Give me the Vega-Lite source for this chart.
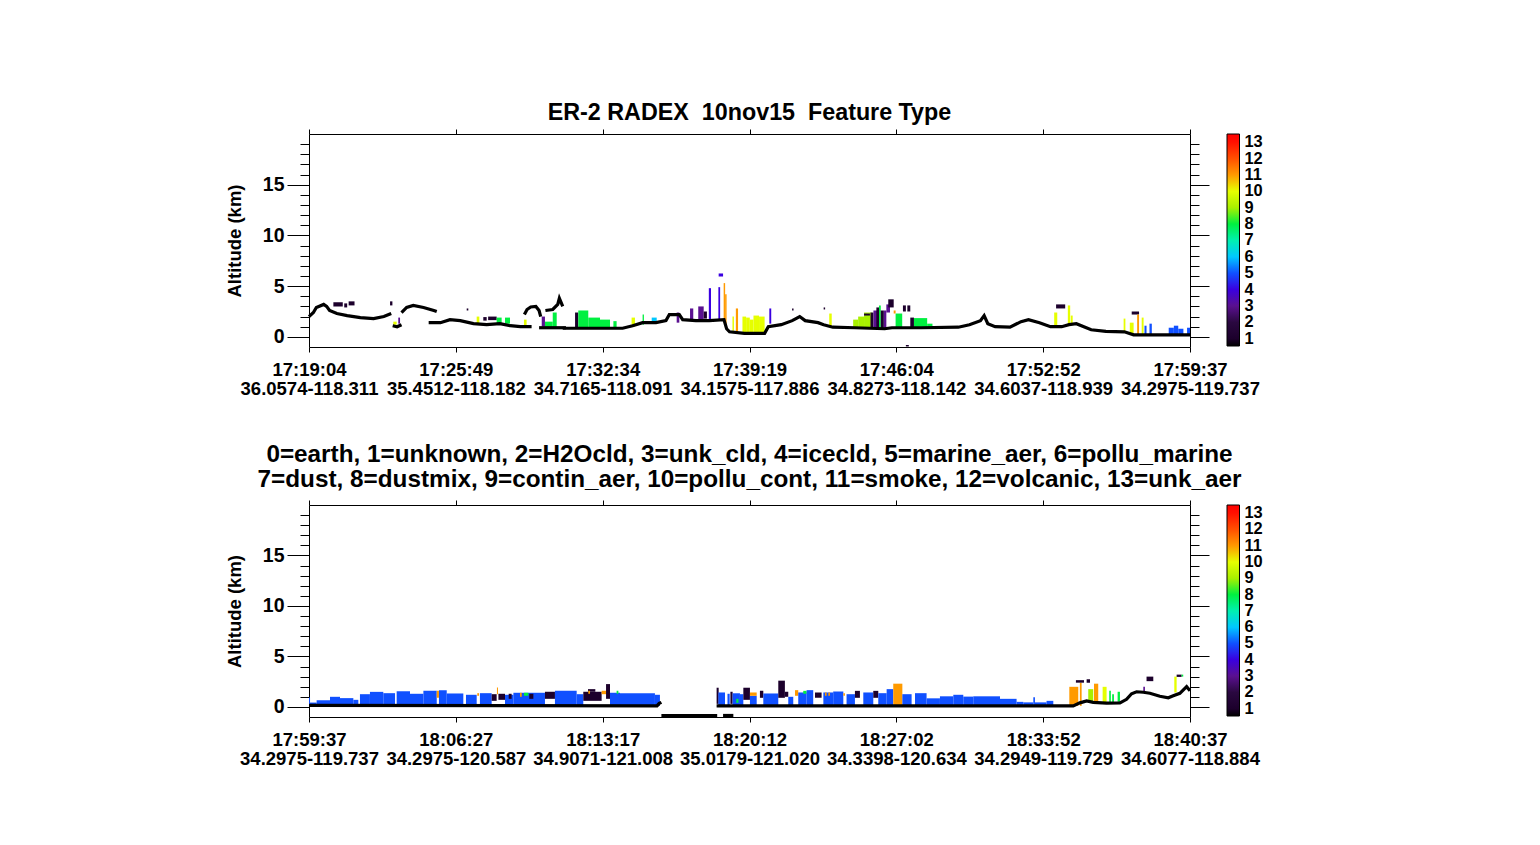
{
  "$schema": "https://vega.github.io/schema/vega-lite/v6.json",
  "padding": {"left": 224, "top": 100, "right": 20, "bottom": 20},
  "background": "white",
  "bounds": "flush",
  "spacing": 158,
  "config": {
    "view": {"stroke": "black", "strokeWidth": 1},
    "font": "Liberation Sans",
    "axis": {
      "domain": false,
      "grid": false,
      "tickColor": "black",
      "tickWidth": 1,
      "labelColor": "black",
      "labelFont": "Liberation Sans",
      "labelFontWeight": "bold",
      "labelFontSize": 18.5,
      "titleFont": "Liberation Sans",
      "titleFontWeight": "bold",
      "titleFontSize": 18.5,
      "titleColor": "black"
    },
    "title": {"font": "Liberation Sans", "fontWeight": "bold", "color": "black", "anchor": "middle"}
  },
  "datasets": {
    "topRects": [
      {"p0": 16.6, "p1": 23, "b": 3.0, "t": 3.4, "c": 1},
      {"p0": 24, "p1": 26, "b": 2.9, "t": 3.3, "c": 1},
      {"p0": 27, "p1": 31, "b": 3.1, "t": 3.5, "c": 1},
      {"p0": 55.2, "p1": 56.8, "b": 3.1, "t": 3.5, "c": 1},
      {"p0": 107.4, "p1": 108.5, "b": 2.6, "t": 2.8, "c": 1},
      {"p0": 118.7, "p1": 121, "b": 1.6, "t": 1.95, "c": 1},
      {"p0": 122, "p1": 127.8, "b": 1.65, "t": 2.0, "c": 1},
      {"p0": 181.2, "p1": 183.4, "b": 0.85, "t": 2.4, "c": 1},
      {"p0": 57.4, "p1": 59.7, "b": 1.2, "t": 1.5, "c": 10},
      {"p0": 60.8, "p1": 62, "b": 1.3, "t": 1.9, "c": 3},
      {"p0": 114.2, "p1": 116, "b": 1.3, "t": 2.0, "c": 10},
      {"p0": 127.8, "p1": 131.2, "b": 1.3, "t": 1.9, "c": 8},
      {"p0": 133.5, "p1": 136.9, "b": 1.3, "t": 1.9, "c": 8},
      {"p0": 146.4, "p1": 148.2, "b": 1.1, "t": 1.7, "c": 10},
      {"p0": 158.5, "p1": 160.7, "b": 1.0, "t": 2.0, "c": 3},
      {"p0": 160.7, "p1": 166, "b": 0.9, "t": 1.5, "c": 8},
      {"p0": 166, "p1": 168.7, "b": 0.9, "t": 2.4, "c": 8},
      {"p0": 183.4, "p1": 190.2, "b": 0.85, "t": 2.6, "c": 8},
      {"p0": 190.2, "p1": 198.2, "b": 0.85, "t": 1.9, "c": 8},
      {"p0": 198.2, "p1": 205, "b": 0.85, "t": 1.7, "c": 8},
      {"p0": 207.3, "p1": 209.5, "b": 0.85, "t": 1.55, "c": 8},
      {"p0": 219.7, "p1": 222, "b": 1.0, "t": 1.9, "c": 10},
      {"p0": 227.2, "p1": 228.1, "b": 1.2, "t": 2.2, "c": 8},
      {"p0": 233.4, "p1": 236.8, "b": 1.4, "t": 1.9, "c": 6},
      {"p0": 250.4, "p1": 252.2, "b": 1.4, "t": 2.4, "c": 3},
      {"p0": 259.5, "p1": 261.7, "b": 1.7, "t": 2.8, "c": 3},
      {"p0": 265.1, "p1": 268.8, "b": 1.6, "t": 3.0, "c": 3},
      {"p0": 268.8, "p1": 271, "b": 1.8, "t": 2.5, "c": 1},
      {"p0": 272.3, "p1": 273.8, "b": 1.7, "t": 4.8, "c": 4},
      {"p0": 278.8, "p1": 280, "b": 1.7, "t": 4.9, "c": 4},
      {"p0": 279, "p1": 282, "b": 5.95, "t": 6.25, "c": 4},
      {"p0": 282.4, "p1": 283.4, "b": 1.7, "t": 5.3, "c": 11},
      {"p0": 283.4, "p1": 284.4, "b": 1.0, "t": 4.2, "c": 11},
      {"p0": 288.4, "p1": 289.4, "b": 0.6, "t": 2.0, "c": 10},
      {"p0": 290.7, "p1": 292.2, "b": 0.5, "t": 2.8, "c": 11},
      {"p0": 295.2, "p1": 297.7, "b": 0.4, "t": 2.0, "c": 10},
      {"p0": 297.7, "p1": 300.2, "b": 0.4, "t": 1.9, "c": 10},
      {"p0": 300.2, "p1": 302.7, "b": 0.4, "t": 1.7, "c": 10},
      {"p0": 302.7, "p1": 306.5, "b": 0.4, "t": 2.1, "c": 10},
      {"p0": 306.5, "p1": 310.3, "b": 0.4, "t": 2.0, "c": 10},
      {"p0": 313.5, "p1": 314.8, "b": 1.3, "t": 2.8, "c": 4},
      {"p0": 329, "p1": 330, "b": 2.6, "t": 2.8, "c": 1},
      {"p0": 350.5, "p1": 351.5, "b": 2.7, "t": 2.9, "c": 1},
      {"p0": 354.3, "p1": 356, "b": 0.95, "t": 2.3, "c": 10},
      {"p0": 370.6, "p1": 374, "b": 0.9, "t": 1.7, "c": 9},
      {"p0": 374, "p1": 378, "b": 0.9, "t": 2.0, "c": 9},
      {"p0": 378, "p1": 383.2, "b": 0.9, "t": 2.4, "c": 9},
      {"p0": 378, "p1": 382, "b": 2.1, "t": 2.3, "c": 1},
      {"p0": 382.4, "p1": 384.4, "b": 0.85, "t": 2.4, "c": 1},
      {"p0": 384.4, "p1": 386.9, "b": 0.85, "t": 2.6, "c": 3},
      {"p0": 386.4, "p1": 388.2, "b": 0.8, "t": 2.9, "c": 1},
      {"p0": 388.2, "p1": 389.4, "b": 0.8, "t": 3.1, "c": 8},
      {"p0": 389.4, "p1": 391.5, "b": 0.75, "t": 2.6, "c": 1},
      {"p0": 391.5, "p1": 393.2, "b": 0.75, "t": 2.6, "c": 3},
      {"p0": 393.2, "p1": 395.7, "b": 2.4, "t": 3.2, "c": 3},
      {"p0": 394.5, "p1": 398.2, "b": 2.9, "t": 3.7, "c": 1},
      {"p0": 398.2, "p1": 399.5, "b": 2.3, "t": 2.6, "c": 11},
      {"p0": 399.5, "p1": 404, "b": 0.9, "t": 2.3, "c": 8},
      {"p0": 404.5, "p1": 406.5, "b": 2.5, "t": 3.1, "c": 1},
      {"p0": 407.5, "p1": 409.5, "b": 2.5, "t": 3.1, "c": 1},
      {"p0": 406.5, "p1": 408.5, "b": -0.95, "t": -0.8, "c": 1},
      {"p0": 409.5, "p1": 412, "b": 0.9, "t": 1.9, "c": 1},
      {"p0": 412, "p1": 421, "b": 0.9, "t": 1.85, "c": 8},
      {"p0": 421, "p1": 424.6, "b": 0.9, "t": 1.3, "c": 8},
      {"p0": 507.5, "p1": 509.6, "b": 1.1, "t": 2.4, "c": 10},
      {"p0": 508.8, "p1": 515, "b": 2.8, "t": 3.2, "c": 1},
      {"p0": 516.8, "p1": 518.4, "b": 1.3, "t": 3.1, "c": 10},
      {"p0": 518.8, "p1": 520.1, "b": 1.3, "t": 2.1, "c": 10},
      {"p0": 554.8, "p1": 556, "b": 0.45, "t": 1.8, "c": 10},
      {"p0": 559, "p1": 561.6, "b": 0.3, "t": 1.4, "c": 10},
      {"p0": 560.3, "p1": 565.3, "b": 2.2, "t": 2.5, "c": 1},
      {"p0": 564, "p1": 565.3, "b": 0.2, "t": 2.2, "c": 11},
      {"p0": 567.1, "p1": 568.4, "b": 0.2, "t": 1.9, "c": 10},
      {"p0": 569, "p1": 570.4, "b": 0.2, "t": 1.1, "c": 5},
      {"p0": 572.4, "p1": 574, "b": 0.2, "t": 1.3, "c": 5},
      {"p0": 585.5, "p1": 589, "b": 0.2, "t": 0.9, "c": 5},
      {"p0": 589, "p1": 592, "b": 0.2, "t": 1.1, "c": 5},
      {"p0": 592, "p1": 595.5, "b": 0.2, "t": 0.8, "c": 5},
      {"p0": 598, "p1": 600, "b": 0.2, "t": 0.9, "c": 5}
    ],
    "topSurface": [
      {"p": 0, "a": 2.0, "s": 1}, {"p": 3, "a": 2.4, "s": 1}, {"p": 5, "a": 2.9, "s": 1}, {"p": 10, "a": 3.2, "s": 1},
      {"p": 12, "a": 3.0, "s": 1}, {"p": 14, "a": 2.6, "s": 1}, {"p": 19, "a": 2.3, "s": 1}, {"p": 26, "a": 2.1, "s": 1},
      {"p": 35, "a": 1.9, "s": 1}, {"p": 44, "a": 1.8, "s": 1}, {"p": 51, "a": 2.0, "s": 1}, {"p": 56, "a": 2.3, "s": 1},
      {"p": 57, "a": 1.1, "s": 2}, {"p": 60, "a": 1.0, "s": 2}, {"p": 63, "a": 1.2, "s": 2},
      {"p": 63, "a": 2.4, "s": 3}, {"p": 66.5, "a": 2.9, "s": 3}, {"p": 71, "a": 3.1, "s": 3}, {"p": 78, "a": 2.9, "s": 3},
      {"p": 85, "a": 2.6, "s": 3}, {"p": 87, "a": 2.5, "s": 3},
      {"p": 81.5, "a": 1.4, "s": 4}, {"p": 89.5, "a": 1.4, "s": 4}, {"p": 96, "a": 1.7, "s": 4}, {"p": 103, "a": 1.6, "s": 4},
      {"p": 112, "a": 1.3, "s": 4}, {"p": 121, "a": 1.2, "s": 4}, {"p": 130, "a": 1.3, "s": 4}, {"p": 137, "a": 1.1, "s": 4},
      {"p": 144, "a": 1.0, "s": 4}, {"p": 151.6, "a": 1.0, "s": 4},
      {"p": 146.7, "a": 2.2, "s": 5}, {"p": 148.5, "a": 2.7, "s": 5}, {"p": 151, "a": 2.95, "s": 5}, {"p": 154.5, "a": 3.0, "s": 5},
      {"p": 156.7, "a": 2.6, "s": 5}, {"p": 157.8, "a": 2.0, "s": 5},
      {"p": 156.7, "a": 0.9, "s": 6}, {"p": 175, "a": 0.9, "s": 6},
      {"p": 161, "a": 2.6, "s": 7}, {"p": 166, "a": 2.7, "s": 7}, {"p": 169.4, "a": 3.2, "s": 7}, {"p": 170.5, "a": 3.8, "s": 7}, {"p": 172.8, "a": 3.0, "s": 7},
      {"p": 172.8, "a": 0.85, "s": 8}, {"p": 213.6, "a": 0.85, "s": 8}, {"p": 220.4, "a": 1.1, "s": 8}, {"p": 227.2, "a": 1.4, "s": 8},
      {"p": 236.3, "a": 1.4, "s": 8}, {"p": 243.1, "a": 1.6, "s": 8}, {"p": 245.4, "a": 2.2, "s": 8}, {"p": 252.2, "a": 2.2, "s": 8},
      {"p": 254.5, "a": 1.7, "s": 8}, {"p": 263.5, "a": 1.6, "s": 8}, {"p": 272.6, "a": 1.6, "s": 8}, {"p": 282.6, "a": 1.7, "s": 8},
      {"p": 284.4, "a": 0.8, "s": 8}, {"p": 286.4, "a": 0.5, "s": 8}, {"p": 296.5, "a": 0.35, "s": 8}, {"p": 310.3, "a": 0.35, "s": 8},
      {"p": 312.8, "a": 1.0, "s": 8}, {"p": 321.6, "a": 1.2, "s": 8}, {"p": 329.1, "a": 1.6, "s": 8}, {"p": 334.2, "a": 2.0, "s": 8},
      {"p": 337.9, "a": 1.6, "s": 8}, {"p": 346.7, "a": 1.4, "s": 8}, {"p": 350.5, "a": 1.2, "s": 8}, {"p": 356.8, "a": 0.95, "s": 8},
      {"p": 371.8, "a": 0.9, "s": 8}, {"p": 392, "a": 0.8, "s": 8}, {"p": 397, "a": 0.9, "s": 8}, {"p": 417, "a": 0.9, "s": 8},
      {"p": 442.2, "a": 0.95, "s": 8}, {"p": 449.8, "a": 1.2, "s": 8}, {"p": 457.3, "a": 1.6, "s": 8}, {"p": 459.8, "a": 2.1, "s": 8},
      {"p": 462.3, "a": 1.3, "s": 8}, {"p": 467.3, "a": 1.0, "s": 8}, {"p": 477.4, "a": 0.95, "s": 8}, {"p": 484.9, "a": 1.5, "s": 8},
      {"p": 490, "a": 1.7, "s": 8}, {"p": 497.5, "a": 1.4, "s": 8}, {"p": 505, "a": 1.0, "s": 8}, {"p": 512.6, "a": 1.0, "s": 8},
      {"p": 517.6, "a": 1.2, "s": 8}, {"p": 522.6, "a": 1.3, "s": 8}, {"p": 527.7, "a": 1.0, "s": 8}, {"p": 532.7, "a": 0.7, "s": 8},
      {"p": 542.7, "a": 0.55, "s": 8}, {"p": 555.3, "a": 0.5, "s": 8}, {"p": 561.6, "a": 0.2, "s": 8}, {"p": 600, "a": 0.2, "s": 8}
    ],
    "bottomRects": [
      {"p0": 0, "p1": 0.7, "b": 0.1, "t": 0.93, "c": 5},
      {"p0": 0.7, "p1": 5.2, "b": 0.1, "t": 0.43, "c": 5},
      {"p0": 5.2, "p1": 14.3, "b": 0.1, "t": 0.66, "c": 5},
      {"p0": 14.3, "p1": 21.1, "b": 0.1, "t": 1.0, "c": 5},
      {"p0": 21.1, "p1": 30.2, "b": 0.1, "t": 0.87, "c": 5},
      {"p0": 30.2, "p1": 33.6, "b": 0.1, "t": 0.7, "c": 5},
      {"p0": 34.7, "p1": 41.5, "b": 0.1, "t": 1.26, "c": 5},
      {"p0": 41.5, "p1": 50.6, "b": 0.1, "t": 1.49, "c": 5},
      {"p0": 50.6, "p1": 58.6, "b": 0.1, "t": 1.36, "c": 5},
      {"p0": 59.7, "p1": 68.8, "b": 0.1, "t": 1.55, "c": 5},
      {"p0": 68.8, "p1": 77.9, "b": 0.1, "t": 1.3, "c": 5},
      {"p0": 77.9, "p1": 87, "b": 0.1, "t": 1.6, "c": 5},
      {"p0": 87, "p1": 88.5, "b": 0.9, "t": 1.6, "c": 11},
      {"p0": 88.5, "p1": 93.8, "b": 0.1, "t": 1.65, "c": 5},
      {"p0": 93.8, "p1": 105.1, "b": 0.1, "t": 1.33, "c": 5},
      {"p0": 106.9, "p1": 114.2, "b": 0.1, "t": 1.2, "c": 5},
      {"p0": 114.6, "p1": 115.8, "b": 1.1, "t": 1.36, "c": 11},
      {"p0": 116.4, "p1": 124.4, "b": 0.1, "t": 1.36, "c": 5},
      {"p0": 124.4, "p1": 127.8, "b": 0.6, "t": 1.26, "c": 1},
      {"p0": 128, "p1": 128.7, "b": 1.26, "t": 1.92, "c": 11},
      {"p0": 129, "p1": 133.5, "b": 0.7, "t": 1.3, "c": 1},
      {"p0": 133.5, "p1": 139.2, "b": 0.1, "t": 1.2, "c": 5},
      {"p0": 136, "p1": 138, "b": 0.8, "t": 1.3, "c": 1},
      {"p0": 139.2, "p1": 160.7, "b": 0.1, "t": 1.4, "c": 5},
      {"p0": 143.7, "p1": 144.9, "b": 1.0, "t": 1.4, "c": 11},
      {"p0": 146.4, "p1": 149.4, "b": 1.1, "t": 1.4, "c": 8},
      {"p0": 150, "p1": 152.8, "b": 0.8, "t": 1.3, "c": 1},
      {"p0": 160.7, "p1": 167.5, "b": 0.8, "t": 1.5, "c": 1},
      {"p0": 167.5, "p1": 182.3, "b": 0.1, "t": 1.6, "c": 5},
      {"p0": 182.3, "p1": 186.8, "b": 0.1, "t": 1.26, "c": 5},
      {"p0": 186.8, "p1": 199.3, "b": 0.6, "t": 1.5, "c": 1},
      {"p0": 190, "p1": 195, "b": 1.5, "t": 1.76, "c": 1},
      {"p0": 190.2, "p1": 191.4, "b": 1.3, "t": 1.6, "c": 11},
      {"p0": 199.3, "p1": 202.7, "b": 1.26, "t": 1.6, "c": 11},
      {"p0": 202.3, "p1": 205, "b": 0.8, "t": 2.26, "c": 1},
      {"p0": 205, "p1": 211.8, "b": 0.1, "t": 1.4, "c": 5},
      {"p0": 209.5, "p1": 210.7, "b": 1.3, "t": 1.6, "c": 8},
      {"p0": 211.8, "p1": 235.6, "b": 0.1, "t": 1.36, "c": 5},
      {"p0": 235.6, "p1": 239, "b": 0.1, "t": 1.2, "c": 5},
      {"p0": 277.6, "p1": 279, "b": 0.3, "t": 1.9, "c": 1},
      {"p0": 278.8, "p1": 283.3, "b": 0.1, "t": 1.43, "c": 5},
      {"p0": 285, "p1": 286.5, "b": 0.1, "t": 1.3, "c": 5},
      {"p0": 287, "p1": 288.5, "b": 0.3, "t": 1.5, "c": 1},
      {"p0": 288.5, "p1": 293.5, "b": 0.1, "t": 1.35, "c": 5},
      {"p0": 291, "p1": 292.5, "b": 0.4, "t": 0.8, "c": 8},
      {"p0": 293.5, "p1": 295.8, "b": 0.1, "t": 1.26, "c": 5},
      {"p0": 295.8, "p1": 300.3, "b": 0.7, "t": 1.9, "c": 1},
      {"p0": 300.3, "p1": 304.9, "b": 0.1, "t": 1.1, "c": 5},
      {"p0": 300.3, "p1": 304.9, "b": 1.1, "t": 1.43, "c": 11},
      {"p0": 307.1, "p1": 309.4, "b": 0.9, "t": 1.6, "c": 1},
      {"p0": 309.4, "p1": 319.6, "b": 0.1, "t": 1.33, "c": 5},
      {"p0": 319.6, "p1": 324.1, "b": 0.9, "t": 2.6, "c": 1},
      {"p0": 324.1, "p1": 326.4, "b": 1.0, "t": 1.5, "c": 1},
      {"p0": 326.4, "p1": 329.8, "b": 0.1, "t": 1.0, "c": 5},
      {"p0": 331, "p1": 333.2, "b": 1.1, "t": 1.66, "c": 11},
      {"p0": 333.2, "p1": 338.9, "b": 0.1, "t": 1.43, "c": 5},
      {"p0": 336.6, "p1": 338.9, "b": 1.3, "t": 1.59, "c": 8},
      {"p0": 338.9, "p1": 343.4, "b": 0.1, "t": 1.66, "c": 5},
      {"p0": 344.6, "p1": 349.1, "b": 0.9, "t": 1.43, "c": 1},
      {"p0": 350.3, "p1": 357, "b": 0.1, "t": 1.43, "c": 5},
      {"p0": 351.4, "p1": 352.5, "b": 1.1, "t": 1.43, "c": 11},
      {"p0": 353.7, "p1": 354.8, "b": 1.1, "t": 1.43, "c": 11},
      {"p0": 357, "p1": 363.9, "b": 0.1, "t": 1.53, "c": 5},
      {"p0": 363.9, "p1": 365, "b": 1.1, "t": 1.36, "c": 11},
      {"p0": 366.1, "p1": 371.8, "b": 0.1, "t": 1.26, "c": 5},
      {"p0": 371.8, "p1": 375.2, "b": 0.9, "t": 1.59, "c": 1},
      {"p0": 377.5, "p1": 384.3, "b": 0.1, "t": 1.43, "c": 5},
      {"p0": 384.3, "p1": 387.7, "b": 0.9, "t": 1.59, "c": 1},
      {"p0": 387.7, "p1": 393.4, "b": 0.1, "t": 1.36, "c": 5},
      {"p0": 393.4, "p1": 397.9, "b": 0.1, "t": 1.76, "c": 5},
      {"p0": 397.9, "p1": 404.1, "b": 0.1, "t": 2.3, "c": 11},
      {"p0": 404.1, "p1": 410.4, "b": 0.1, "t": 1.26, "c": 5},
      {"p0": 412.7, "p1": 420.6, "b": 0.1, "t": 1.36, "c": 5},
      {"p0": 420.6, "p1": 429.7, "b": 0.1, "t": 0.85, "c": 5},
      {"p0": 429.7, "p1": 438.8, "b": 0.1, "t": 1.05, "c": 5},
      {"p0": 438.8, "p1": 445.6, "b": 0.1, "t": 1.2, "c": 5},
      {"p0": 445.6, "p1": 452.4, "b": 0.1, "t": 1.02, "c": 5},
      {"p0": 452.4, "p1": 470.6, "b": 0.1, "t": 1.05, "c": 5},
      {"p0": 470.6, "p1": 481.9, "b": 0.1, "t": 0.8, "c": 5},
      {"p0": 481.9, "p1": 486.5, "b": 0.1, "t": 0.5, "c": 5},
      {"p0": 486.5, "p1": 493.3, "b": 0.1, "t": 0.45, "c": 5},
      {"p0": 493.3, "p1": 494.4, "b": 0.1, "t": 0.95, "c": 5},
      {"p0": 494.4, "p1": 502.3, "b": 0.1, "t": 0.45, "c": 5},
      {"p0": 502.3, "p1": 506.9, "b": 0.1, "t": 0.6, "c": 5},
      {"p0": 517.8, "p1": 523.9, "b": 0.1, "t": 1.99, "c": 11},
      {"p0": 525, "p1": 526.2, "b": 0.1, "t": 2.4, "c": 11},
      {"p0": 522.3, "p1": 527.8, "b": 2.4, "t": 2.65, "c": 1},
      {"p0": 529.6, "p1": 531.9, "b": 2.4, "t": 2.75, "c": 1},
      {"p0": 530.7, "p1": 534.1, "b": 0.5, "t": 1.76, "c": 9},
      {"p0": 534.6, "p1": 537.5, "b": 0.45, "t": 2.3, "c": 11},
      {"p0": 540.5, "p1": 543.2, "b": 0.4, "t": 1.99, "c": 10},
      {"p0": 545, "p1": 546.1, "b": 0.4, "t": 1.59, "c": 8},
      {"p0": 547, "p1": 548.2, "b": 0.4, "t": 1.26, "c": 8},
      {"p0": 550.7, "p1": 552.3, "b": 0.5, "t": 1.5, "c": 8},
      {"p0": 568.2, "p1": 569.3, "b": 1.43, "t": 2.0, "c": 3},
      {"p0": 570.4, "p1": 575, "b": 2.55, "t": 3.0, "c": 1},
      {"p0": 589.3, "p1": 590.9, "b": 1.43, "t": 3.0, "c": 10},
      {"p0": 590.9, "p1": 594.3, "b": 2.97, "t": 3.2, "c": 1},
      {"p0": 594.3, "p1": 595.4, "b": 3.0, "t": 3.2, "c": 8}
    ],
    "bottomSurface": [
      {"p": 0, "a": 0.15, "s": 1}, {"p": 237, "a": 0.1, "s": 1}, {"p": 238.5, "a": 0.35, "s": 1}, {"p": 240, "a": 0.45, "s": 1},
      {"p": 240, "a": -0.85, "s": 2}, {"p": 278, "a": -0.85, "s": 2},
      {"p": 282, "a": -0.85, "s": 3}, {"p": 289, "a": -0.85, "s": 3},
      {"p": 277.6, "a": 0.1, "s": 4}, {"p": 520.5, "a": 0.1, "s": 4}, {"p": 525, "a": 0.4, "s": 4}, {"p": 529.6, "a": 0.6, "s": 4},
      {"p": 534.1, "a": 0.45, "s": 4}, {"p": 543.2, "a": 0.37, "s": 4}, {"p": 552.3, "a": 0.4, "s": 4}, {"p": 556.8, "a": 0.75, "s": 4},
      {"p": 560.2, "a": 1.3, "s": 4}, {"p": 563.6, "a": 1.5, "s": 4}, {"p": 568.2, "a": 1.45, "s": 4}, {"p": 572.7, "a": 1.35, "s": 4},
      {"p": 579.5, "a": 1.06, "s": 4}, {"p": 585.2, "a": 0.9, "s": 4}, {"p": 588.6, "a": 1.1, "s": 4}, {"p": 593.1, "a": 1.35, "s": 4},
      {"p": 597.7, "a": 2.0, "s": 4}, {"p": 600, "a": 1.6, "s": 4}
    ]
  },
  "vconcat": [
    {
      "width": 881,
      "height": 213,
      "title": {"text": "ER-2 RADEX \u00a010nov15 \u00a0Feature Type", "fontSize": 23.3, "offset": 3},
      "layer": [
        {
          "data": {"name": "topRects"},
          "mark": {"type": "rect", "strokeWidth": 0},
          "encoding": {
            "x": {"field": "p0", "type": "quantitative", "scale": {"domain": [0, 600], "nice": false, "zero": false},
              "axis": {"orient": "bottom", "title": null, "values": [0, 100, 200, 300, 400, 500, 600], "tickSize": 5, "labelPadding": 8, "labelLineHeight": 19,
                "labelExpr": "[['17:19:04','36.0574-118.311'],['17:25:49','35.4512-118.182'],['17:32:34','34.7165-118.091'],['17:39:19','34.1575-117.886'],['17:46:04','34.8273-118.142'],['17:52:52','34.6037-118.939'],['17:59:37','34.2975-119.737']][round(datum.value/100)]",
                "labelOverlap": false, "labelFlush": false}},
            "x2": {"field": "p1"},
            "y": {"field": "b", "type": "quantitative", "scale": {"domain": [-1, 20], "nice": false, "zero": false},
              "axis": {"orient": "left", "title": "Altitude (km)", "titlePadding": 18, "labelFontSize": 19.5, "values": [0, 1, 2, 3, 4, 5, 6, 7, 8, 9, 10, 11, 12, 13, 14, 15, 16, 17, 18, 19],
                "tickSize": {"condition": {"test": "datum.value % 5 === 0", "value": 22}, "value": 9},
                "labelExpr": "datum.value % 5 === 0 ? datum.label : ''", "labelPadding": 3, "labelOverlap": false}},
            "y2": {"field": "t"},
            "color": {"field": "c", "type": "quantitative",
              "scale": {"type": "linear", "domain": [0.55, 1, 2, 3, 4, 5, 6, 7, 8, 9, 10, 11, 12, 13, 13.5],
                "range": ["#000000", "#000000", "#2a0840", "#5a1090", "#3a00e0", "#1050ff", "#00c8ff", "#00f0b0", "#00f040", "#a8f000", "#e6ff00", "#ff9a00", "#ff5000", "#ff1000", "#ff0000"]},
              "legend": {"type": "gradient", "orient": "right", "direction": "vertical", "offset": 17, "padding": 0, "title": null,
                "gradientLength": 212, "gradientThickness": 12.5, "gradientStrokeColor": "black", "gradientStrokeWidth": 1,
                "values": [1, 2, 3, 4, 5, 6, 7, 8, 9, 10, 11, 12, 13], "labelOverlap": false, "labelFont": "Liberation Sans",
                "labelFontWeight": "bold", "labelFontSize": 16.4, "labelColor": "black", "labelOffset": 5}}
          }
        },
        {
          "data": {"name": "topSurface"},
          "mark": {"type": "line", "color": "black", "strokeWidth": 3.2, "interpolate": "linear"},
          "encoding": {
            "x": {"field": "p", "type": "quantitative", "scale": {"domain": [0, 600], "nice": false, "zero": false},
              "axis": {"orient": "top", "title": null, "labels": false, "values": [0, 100, 200, 300, 400, 500, 600], "tickSize": 5}},
            "y": {"field": "a", "type": "quantitative", "scale": {"domain": [-1, 20], "nice": false, "zero": false},
              "axis": {"orient": "right", "title": null, "labels": false, "values": [0, 1, 2, 3, 4, 5, 6, 7, 8, 9, 10, 11, 12, 13, 14, 15, 16, 17, 18, 19],
                "tickSize": {"condition": {"test": "datum.value % 5 === 0", "value": 19}, "value": 9}}},
            "detail": {"field": "s", "type": "nominal"}
          }
        }
      ],
      "resolve": {"axis": {"x": "independent", "y": "independent"}}
    },
    {
      "width": 881,
      "height": 212,
      "title": {"text": ["0=earth, 1=unknown, 2=H2Ocld, 3=unk_cld, 4=icecld, 5=marine_aer, 6=pollu_marine", "7=dust, 8=dustmix, 9=contin_aer, 10=pollu_cont, 11=smoke, 12=volcanic, 13=unk_aer"], "fontSize": 24.3, "lineHeight": 25, "offset": 7},
      "layer": [
        {
          "data": {"name": "bottomRects"},
          "mark": {"type": "rect", "strokeWidth": 0},
          "encoding": {
            "x": {"field": "p0", "type": "quantitative", "scale": {"domain": [0, 600], "nice": false, "zero": false},
              "axis": {"orient": "bottom", "title": null, "values": [0, 100, 200, 300, 400, 500, 600], "tickSize": 5, "labelPadding": 8, "labelLineHeight": 19,
                "labelExpr": "[['17:59:37','34.2975-119.737'],['18:06:27','34.2975-120.587'],['18:13:17','34.9071-121.008'],['18:20:12','35.0179-121.020'],['18:27:02','34.3398-120.634'],['18:33:52','34.2949-119.729'],['18:40:37','34.6077-118.884']][round(datum.value/100)]",
                "labelOverlap": false, "labelFlush": false}},
            "x2": {"field": "p1"},
            "y": {"field": "b", "type": "quantitative", "scale": {"domain": [-1, 20], "nice": false, "zero": false},
              "axis": {"orient": "left", "title": "Altitude (km)", "titlePadding": 18, "labelFontSize": 19.5, "values": [0, 1, 2, 3, 4, 5, 6, 7, 8, 9, 10, 11, 12, 13, 14, 15, 16, 17, 18, 19],
                "tickSize": {"condition": {"test": "datum.value % 5 === 0", "value": 22}, "value": 9},
                "labelExpr": "datum.value % 5 === 0 ? datum.label : ''", "labelPadding": 3, "labelOverlap": false}},
            "y2": {"field": "t"},
            "color": {"field": "c", "type": "quantitative",
              "scale": {"type": "linear", "domain": [0.55, 1, 2, 3, 4, 5, 6, 7, 8, 9, 10, 11, 12, 13, 13.5],
                "range": ["#000000", "#000000", "#2a0840", "#5a1090", "#3a00e0", "#1050ff", "#00c8ff", "#00f0b0", "#00f040", "#a8f000", "#e6ff00", "#ff9a00", "#ff5000", "#ff1000", "#ff0000"]},
              "legend": {"type": "gradient", "orient": "right", "direction": "vertical", "offset": 17, "padding": 0, "title": null,
                "gradientLength": 211, "gradientThickness": 12.5, "gradientStrokeColor": "black", "gradientStrokeWidth": 1,
                "values": [1, 2, 3, 4, 5, 6, 7, 8, 9, 10, 11, 12, 13], "labelOverlap": false, "labelFont": "Liberation Sans",
                "labelFontWeight": "bold", "labelFontSize": 16.4, "labelColor": "black", "labelOffset": 5}}
          }
        },
        {
          "data": {"name": "bottomSurface"},
          "mark": {"type": "line", "color": "black", "strokeWidth": 3.2, "interpolate": "linear"},
          "encoding": {
            "x": {"field": "p", "type": "quantitative", "scale": {"domain": [0, 600], "nice": false, "zero": false},
              "axis": {"orient": "top", "title": null, "labels": false, "values": [0, 100, 200, 300, 400, 500, 600], "tickSize": 5}},
            "y": {"field": "a", "type": "quantitative", "scale": {"domain": [-1, 20], "nice": false, "zero": false},
              "axis": {"orient": "right", "title": null, "labels": false, "values": [0, 1, 2, 3, 4, 5, 6, 7, 8, 9, 10, 11, 12, 13, 14, 15, 16, 17, 18, 19],
                "tickSize": {"condition": {"test": "datum.value % 5 === 0", "value": 19}, "value": 9}}},
            "detail": {"field": "s", "type": "nominal"}
          }
        }
      ],
      "resolve": {"axis": {"x": "independent", "y": "independent"}}
    }
  ],
  "resolve": {"scale": {"color": "independent"}, "legend": {"color": "independent"}}
}
